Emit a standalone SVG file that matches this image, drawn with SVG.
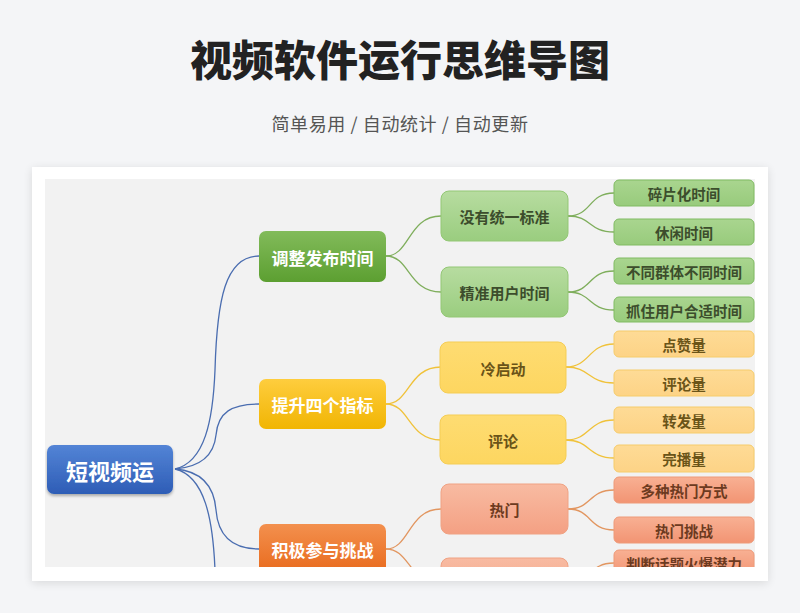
<svg xmlns="http://www.w3.org/2000/svg" width="800" height="613" viewBox="0 0 800 613">
<defs>
<style>
.t{font-family:"Noto Sans CJK SC","Noto Sans",sans-serif;font-weight:700;text-anchor:middle;dominant-baseline:central}
.c{fill:none;stroke-width:1.3}
.cb{stroke:#4a6db0}.cg{stroke:#7fae5c}.cy{stroke:#f0c23a}.co{stroke:#e29660}
.l1{font-size:17px;fill:#fff}
.l2{font-size:15px}
.l3{font-size:14.5px}
.tg{fill:#3c4d2c}.ty{fill:#6a5418}.to{fill:#6c3a20}
</style>
<linearGradient id="gRoot" x1="0" y1="0" x2="0" y2="1"><stop offset="0" stop-color="#5384d6"/><stop offset="1" stop-color="#2e5db6"/></linearGradient>
<linearGradient id="gG1" x1="0" y1="0" x2="0" y2="1"><stop offset="0" stop-color="#82bb5a"/><stop offset="1" stop-color="#5c9f31"/></linearGradient>
<linearGradient id="gY1" x1="0" y1="0" x2="0" y2="1"><stop offset="0" stop-color="#fecd3e"/><stop offset="1" stop-color="#f1b503"/></linearGradient>
<linearGradient id="gO1" x1="0" y1="0" x2="0" y2="1"><stop offset="0" stop-color="#f3904e"/><stop offset="1" stop-color="#e8691b"/></linearGradient>
<linearGradient id="gG2" x1="0" y1="0" x2="0" y2="1"><stop offset="0" stop-color="#b7dca0"/><stop offset="1" stop-color="#9acd7f"/></linearGradient>
<linearGradient id="gG3" x1="0" y1="0" x2="0" y2="1"><stop offset="0" stop-color="#a9d58f"/><stop offset="1" stop-color="#98cb7c"/></linearGradient>
<linearGradient id="gY2" x1="0" y1="0" x2="0" y2="1"><stop offset="0" stop-color="#fedc72"/><stop offset="1" stop-color="#fdd660"/></linearGradient>
<linearGradient id="gY3" x1="0" y1="0" x2="0" y2="1"><stop offset="0" stop-color="#fedb96"/><stop offset="1" stop-color="#fdd386"/></linearGradient>
<linearGradient id="gO2" x1="0" y1="0" x2="0" y2="1"><stop offset="0" stop-color="#f8bba2"/><stop offset="1" stop-color="#f4a083"/></linearGradient>
<linearGradient id="gO3" x1="0" y1="0" x2="0" y2="1"><stop offset="0" stop-color="#f8b093"/><stop offset="1" stop-color="#f29473"/></linearGradient>
<filter id="shCard" x="-5%" y="-5%" width="110%" height="112%"><feGaussianBlur in="SourceAlpha" stdDeviation="5"/><feOffset dy="2"/><feComponentTransfer><feFuncA type="linear" slope="0.12"/></feComponentTransfer><feMerge><feMergeNode/><feMergeNode in="SourceGraphic"/></feMerge></filter>
<filter id="shNode" x="-10%" y="-10%" width="120%" height="130%"><feGaussianBlur in="SourceAlpha" stdDeviation="1.5"/><feOffset dy="1.5"/><feComponentTransfer><feFuncA type="linear" slope="0.3"/></feComponentTransfer><feMerge><feMergeNode/><feMergeNode in="SourceGraphic"/></feMerge></filter>
<clipPath id="clip"><rect x="45" y="179" width="710" height="388"/></clipPath>
</defs>
<rect x="0" y="0" width="800" height="613" fill="#f4f5f7"/>
<text x="400" y="76" font-family="'Noto Sans CJK SC',sans-serif" font-weight="900" font-size="42" fill="#222" text-anchor="middle">视频软件运行思维导图</text>
<text x="400" y="131" font-family="'Noto Sans CJK SC',sans-serif" font-size="18" fill="#555" text-anchor="middle" letter-spacing="0.6" xml:space="preserve">简单易用 / 自动统计 / 自动更新</text>
<rect x="32" y="167" width="736" height="414" fill="#fff" filter="url(#shCard)"/>
<rect x="45" y="179" width="710" height="388" fill="#f2f2f2"/>
<g clip-path="url(#clip)">
<g id="connectors">
<path class="c cb" d="M175,469 C205,462 213,420 215,370 C217,300 225,256 259,256"/>
<path class="c cb" d="M175,469 C200,467 214,455 216,435 C218,412 232,404 259,404"/>
<path class="c cb" d="M175,469 C200,471 214,485 216,510 C218,535 232,549 259,549"/>
<path class="c cb" d="M175,469 C205,476 213,520 215,570 C217,640 225,690 259,690"/>
<path class="c cg" d="M386,256 C410,256 408,216 441,216"/>
<path class="c cg" d="M386,256 C410,256 408,292 441,292"/>
<path class="c cy" d="M386,404 C410,404 408,367 441,367"/>
<path class="c cy" d="M386,404 C410,404 408,440 441,440"/>
<path class="c co" d="M386,549 C410,549 408,509 441,509"/>
<path class="c co" d="M386,549 C410,549 408,583 441,583"/>
<path class="c cg" d="M568,216 C592,216 588,193 614,193"/>
<path class="c cg" d="M568,216 C592,216 588,232 614,232"/>
<path class="c cg" d="M568,292 C592,292 588,271 614,271"/>
<path class="c cg" d="M568,292 C592,292 588,310 614,310"/>
<path class="c cy" d="M566,367 C590,367 588,344 614,344"/>
<path class="c cy" d="M566,367 C590,367 588,383 614,383"/>
<path class="c cy" d="M566,440 C590,440 588,420 614,420"/>
<path class="c cy" d="M566,440 C590,440 588,458 614,458"/>
<path class="c co" d="M568,509 C592,509 588,490 614,490"/>
<path class="c co" d="M568,509 C592,509 588,530 614,530"/>
<path class="c co" d="M568,583 C592,583 588,563 614,563"/>
</g>
<g id="root"><rect x="47" y="445" width="126" height="49" rx="7" fill="url(#gRoot)" filter="url(#shNode)"/><text class="t" x="110" y="470" font-size="22" fill="#fff">短视频运</text></g>
<g id="n1"><rect x="259" y="231" width="127" height="51" rx="7" fill="url(#gG1)"/><text class="t l1" x="322.5" y="257">调整发布时间</text></g>
<g id="n2"><rect x="259" y="379" width="127" height="50" rx="7" fill="url(#gY1)"/><text class="t l1" x="322.5" y="404">提升四个指标</text></g>
<g id="n3"><rect x="259" y="524" width="127" height="51" rx="7" fill="url(#gO1)"/><text class="t l1" x="322.5" y="549">积极参与挑战</text></g>
<g id="n11"><rect x="441" y="191" width="127" height="50" rx="8" fill="url(#gG2)" stroke="#93c775"/><text class="t l2 tg" x="504.5" y="216">没有统一标准</text></g>
<g id="n12"><rect x="441" y="267" width="127" height="50" rx="8" fill="url(#gG2)" stroke="#93c775"/><text class="t l2 tg" x="504.5" y="292">精准用户时间</text></g>
<g id="n21"><rect x="440" y="342" width="126" height="51" rx="8" fill="url(#gY2)" stroke="#f5cd55"/><text class="t l2 ty" x="503" y="368">冷启动</text></g>
<g id="n22"><rect x="440" y="415" width="126" height="49" rx="8" fill="url(#gY2)" stroke="#f5cd55"/><text class="t l2 ty" x="503" y="440">评论</text></g>
<g id="n31"><rect x="441" y="484" width="127" height="50" rx="8" fill="url(#gO2)" stroke="#f0a283"/><text class="t l2 to" x="504.5" y="509">热门</text></g>
<g id="n32"><rect x="441" y="558" width="127" height="50" rx="8" fill="url(#gO2)" stroke="#f0a283"/></g>
<g id="n111"><rect x="614" y="180" width="140" height="26" rx="5" fill="url(#gG3)" stroke="#80bb62"/><text class="t l3 tg" x="684" y="193">碎片化时间</text></g>
<g id="n112"><rect x="614" y="219" width="140" height="26" rx="5" fill="url(#gG3)" stroke="#80bb62"/><text class="t l3 tg" x="684" y="232">休闲时间</text></g>
<g id="n121"><rect x="614" y="258" width="140" height="26" rx="5" fill="url(#gG3)" stroke="#80bb62"/><text class="t l3 tg" x="684" y="271">不同群体不同时间</text></g>
<g id="n122"><rect x="614" y="297" width="140" height="25" rx="5" fill="url(#gG3)" stroke="#80bb62"/><text class="t l3 tg" x="684" y="310">抓住用户合适时间</text></g>
<g id="n211"><rect x="614" y="331" width="140" height="26" rx="5" fill="url(#gY3)" stroke="#f6cc6a"/><text class="t l3 ty" x="684" y="344">点赞量</text></g>
<g id="n212"><rect x="614" y="370" width="140" height="26" rx="5" fill="url(#gY3)" stroke="#f6cc6a"/><text class="t l3 ty" x="684" y="383">评论量</text></g>
<g id="n221"><rect x="614" y="407" width="140" height="26" rx="5" fill="url(#gY3)" stroke="#f6cc6a"/><text class="t l3 ty" x="684" y="420">转发量</text></g>
<g id="n222"><rect x="614" y="445" width="140" height="27" rx="5" fill="url(#gY3)" stroke="#f6cc6a"/><text class="t l3 ty" x="684" y="458.5">完播量</text></g>
<g id="n311"><rect x="614" y="477" width="140" height="26" rx="5" fill="url(#gO3)" stroke="#ee9a78"/><text class="t l3 to" x="684" y="490">多种热门方式</text></g>
<g id="n312"><rect x="614" y="517" width="140" height="26" rx="5" fill="url(#gO3)" stroke="#ee9a78"/><text class="t l3 to" x="684" y="530">热门挑战</text></g>
<g id="n321"><rect x="614" y="550" width="140" height="26" rx="5" fill="url(#gO3)" stroke="#ee9a78"/><text class="t l3 to" x="684" y="563">判断话题火爆潜力</text></g>
</g>
</svg>
